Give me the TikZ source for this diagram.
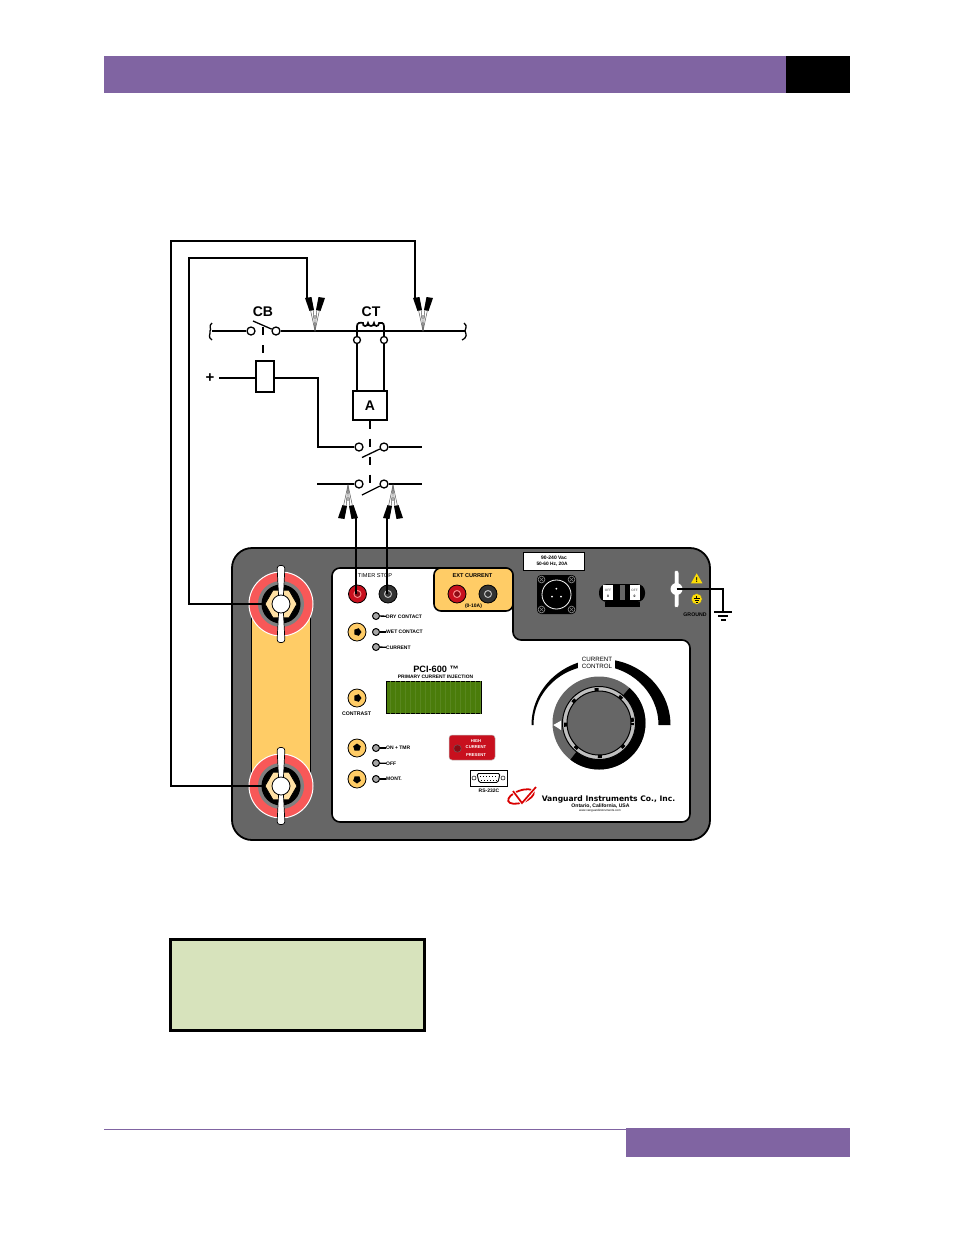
\documentclass[tikz,border=0pt]{standalone}
\usepackage{fontspec}
\setmainfont{Liberation Sans}
\newfontfamily\widefont{DejaVu Sans}
\usetikzlibrary{shapes.geometric}
\definecolor{headpurple}{HTML}{8064A2}
\definecolor{panelgray}{HTML}{666666}
\definecolor{strapyellow}{HTML}{FFCC66}
\definecolor{postred}{HTML}{F85858}
\definecolor{jackred}{HTML}{C8101E}
\definecolor{lcdgreen}{HTML}{4A7C0A}
\definecolor{notegreen}{HTML}{D7E3BC}
\tikzset{
  wire/.style={line width=1.7},
  thinwire/.style={line width=1.3},
  term/.style={circle, draw, line width=1.3, fill=white, inner sep=0, minimum size=8},
  smallterm/.style={term, minimum size=7},
  linkdash/.style={line width=1.3, dash pattern=on 8pt off 10pt},
  jackbody/.style={circle, draw, line width=0.8, inner sep=0, minimum size=18},
  jackring/.style={circle, draw, line width=1, inner sep=0, minimum size=7},
  led/.style={circle, draw, line width=1, fill=gray!70, inner sep=0, minimum size=7},
  btn/.style={circle, draw, line width=0.8, fill=strapyellow, inner sep=0, minimum size=18},
  glyph/.style={regular polygon, regular polygon sides=5, fill=black, inner sep=0, minimum size=8},
  tiny/.style={font=\fontsize{5}{6}\selectfont\bfseries, inner sep=0},
  tinyl/.style={tiny, anchor=west},
  lamptext/.style={font=\fontsize{4.2}{5}\selectfont\bfseries, inner sep=0, white},
  label/.style={font=\fontsize{14}{14}\selectfont\bfseries, inner sep=0},
  alligator/.pic={
    \fill (-10,-33) -- (-3.5,-34) -- (-1,-21) -- (-5.5,-20) -- cycle;
    \fill (10,-33) -- (3.5,-34) -- (1,-21) -- (5.5,-20) -- cycle;
    \draw[line width=0.5, black!65] (-4.5,-21) -- (0,0) -- (4.5,-21);
    \draw[line width=0.5, black!65] (-1.8,-21) -- (0,0) -- (1.8,-21);
    \draw[line width=0.5, black!65, fill=white] (0,-14) circle (1.5);
  },
  bindingpost/.pic={
    \node[circle, draw=white, line width=1, fill=postred, inner sep=0, minimum size=64] (-red) at (0,0) {};
    \node[circle, fill=gray, inner sep=0, minimum size=46] (-ring) at (0,0) {};
    \node[circle, fill=black, inner sep=0, minimum size=39] (-well) at (0,0) {};
    \node[regular polygon, regular polygon sides=6, draw, line width=0.8, fill=strapyellow!60!white, inner sep=0, minimum size=32] (-hex) at (0,0) {};
    \draw[line width=0.7, fill=white, rounded corners=3] (-4,-38.5) -- (4,-38.5) -- (2,0) -- (4,38.5) -- (-4,38.5) -- (-2,0) -- cycle;
    \node[circle, draw, line width=0.8, fill=white, inner sep=0, minimum size=18] (-cap) at (0,0) {};
  },
}
\begin{document}
\begin{tikzpicture}[x=1pt, y=-1pt]
\useasboundingbox (0,0) rectangle (954,1235);

% page furniture
\node[fill=headpurple, inner sep=0, minimum width=682, minimum height=37] (header) at (445,74.5) {};
\node[fill=black, inner sep=0, minimum width=64, minimum height=37] (headerblack) at (818,74.5) {};
\node[fill=headpurple, inner sep=0, minimum width=224, minimum height=29] (footer) at (738,1142.5) {};
\coordinate (footleft) at (104,1129);
\draw[headpurple, line width=0.8] (footleft) -- (footer.west |- footleft);
\node[draw, line width=3, fill=notegreen, inner sep=0, minimum width=254, minimum height=91] (notebox) at (297,984.5) {};

% instrument body
\node[draw, line width=1.8, fill=panelgray, rounded corners=20, inner sep=0, minimum width=478, minimum height=292] (panel) at (471,694) {};
\draw[line width=1.6, fill=white, rounded corners=8] (332,568) -- (513,568) -- (513,640) -- (690,640) -- (690,822) -- (332,822) -- cycle;

% current strap and posts
\node[draw, line width=1.2, fill=strapyellow, inner sep=0, minimum width=59, minimum height=182] (strap) at (281,695) {};
\pic (posta) at (281,604) {bindingpost};
\pic (postb) at (281,786) {bindingpost};

% timer stop
\node[font=\fontsize{5.6}{6}\selectfont, inner sep=0] (timerlabel) at (375,576) {TIMER STOP};
\node[jackbody, fill=jackred] (timerred) at (357.5,594) {};
\node[jackring, draw=postred!70!white, fill=jackred!70!black] (timerredin) at (357.5,594) {};
\node[jackbody, fill=black!80] (timerblk) at (388,594) {};
\node[jackring, draw=lightgray, fill=black!80] (timerblkin) at (388,594) {};

% ext current
\node[draw, line width=1.6, fill=strapyellow, rounded corners=7, inner sep=0, minimum width=79, minimum height=43] (extbox) at (473.5,589.5) {};
\node[font=\fontsize{5.6}{6}\selectfont\bfseries, inner sep=0] (extlabel) at (472.5,576) {EXT CURRENT};
\node[tiny] (extrange) at (473.5,606) {(0-10A)};
\node[jackbody, fill=jackred] (extred) at (457,594) {};
\node[jackring, draw=postred!70!white, fill=jackred!70!black] (extredin) at (457,594) {};
\node[jackbody, fill=black!80] (extblk) at (488,594) {};
\node[jackring, draw=lightgray, fill=black!80] (extblkin) at (488,594) {};

% mode leds
\node[led] (leddry) at (376,616) {};
\node[tinyl] (txtdry) at (386,616.5) {DRY CONTACT};
\draw[thinwire] (leddry) -- (txtdry);
\node[led] (ledwet) at (376,632) {};
\node[tinyl] (txtwet) at (386,632) {WET CONTACT};
\draw[thinwire] (ledwet) -- (txtwet);
\node[led] (ledcur) at (376,647) {};
\node[tinyl] (txtcur) at (386,647.5) {CURRENT};
\draw[thinwire] (ledcur) -- (txtcur);
\node[btn] (btnmode) at (357,632) {};
\node[glyph, shape border rotate=-90] (glyphmode) at (357.5,632) {};

% title and display
\node[font=\fontsize{9.2}{9}\selectfont\bfseries, inner sep=0] (title) at (436,669) {PCI-600 ™};
\node[font=\fontsize{4.9}{5}\selectfont\bfseries, inner sep=0] (subtitle) at (435.5,676.5) {PRIMARY CURRENT INJECTION};
\node[draw, line width=1.8, fill=lcdgreen, inner sep=0, minimum width=95, minimum height=32] (lcd) at (434,697.5) {};
\draw[lcdgreen!92!white, line width=0.15, step=5] (lcd.south west) grid (lcd.north east);
\node[btn] (btncontrast) at (357,698) {};
\node[glyph, shape border rotate=-90] (glyphcontrast) at (357.5,698) {};
\node[tiny, font=\fontsize{5.2}{6}\selectfont\bfseries] (txtcontrast) at (356.5,714) {CONTRAST};

% power keys
\node[btn] (btnon) at (357,748) {};
\node[glyph] (glyphon) at (357,747.5) {};
\node[btn] (btnmon) at (357,779) {};
\node[glyph, shape border rotate=180] (glyphmon) at (357,779.5) {};
\node[led] (ledon) at (376,748) {};
\node[tinyl] (txton) at (386,748) {ON + TMR};
\draw[thinwire] (ledon) -- (txton);
\node[led] (ledoff) at (376,763) {};
\node[tinyl] (txtoff) at (386,763.5) {OFF};
\draw[thinwire] (ledoff) -- (txtoff);
\node[led] (ledmon) at (376,779) {};
\node[tinyl] (txtmon) at (386,779) {MONT.};
\draw[thinwire] (ledmon) -- (txtmon);

% warning lamp
\node[draw=lightgray, line width=0.5, fill=jackred, rounded corners=3, inner sep=0, minimum width=46, minimum height=25] (hcbox) at (472,747.5) {};
\node[circle, draw=black!60, fill=jackred!70!black, inner sep=0, minimum size=7.5] (hclamp) at (457.5,748.5) {};
\node[lamptext] (hca) at (476,741) {HIGH};
\node[lamptext] (hcb) at (476,747.5) {CURRENT};
\node[lamptext] (hcc) at (476,755) {PRESENT};

% rs-232
\node[draw, line width=0.8, fill=white, inner sep=0, minimum width=37, minimum height=16] (rsbox) at (488.5,778) {};
\draw[line width=0.9, rounded corners=1.5] (477,773.5) -- (500,773.5) -- (498,782.5) -- (479,782.5) -- cycle;
\draw[line width=1, dash pattern=on 1pt off 2pt] (480,776) -- (498,776);
\draw[line width=1, dash pattern=on 1pt off 2pt] (481,780) -- (497,780);
\draw[line width=0.5] (474,778) circle (2);
\draw[line width=0.5] (503,778) circle (2);
\node[tiny] (txtrs) at (489,791) {RS-232C};

% logo and maker
\draw[red!85!black, line width=1.8, rotate around={20:(521,796.5)}] (521,796.5) ellipse (13.5 and 6);
\draw[white, line width=3.6] (513,791) -- (522,803) -- (536,787);
\draw[red!85!black, line width=1.7] (513,791) -- (522,803) -- (536,787);
\node[font=\fontsize{7.6}{8}\selectfont\bfseries\widefont, inner sep=0] (maker) at (608.5,799) {Vanguard Instruments Co., Inc.};
\node[font=\fontsize{5.1}{6}\selectfont\bfseries, inner sep=0] (makerb) at (600.5,806.5) {Ontario, California, USA};
\node[font=\fontsize{3}{4}\selectfont, inner sep=0] (makerc) at (600,811) {www.vanguardinstruments.com};

% current control
\begin{scope}[shift={(0,725)}, y=1pt]
  \fill (670.5,0) arc[start angle=0, end angle=180, x radius=69.5, y radius=66] -- (533.5,0) arc[start angle=180, end angle=0, x radius=62.5, y radius=59.5] -- cycle;
\end{scope}
\node[fill=white, inner sep=0, minimum width=37, minimum height=18] (ctrlgap) at (596.5,663) {};
\node[font=\fontsize{6.2}{6.5}\selectfont, inner sep=0, align=center] (ctrllabel) at (597,663) {CURRENT\\CONTROL};
\node[circle, fill=panelgray, inner sep=0, minimum size=93] (dial) at (599,723) {};
\begin{scope}[shift={(599,723)}, y=1pt]
  \fill (0,0) -- (49:46.5) arc[start angle=49, end angle=-128, radius=46.5] -- cycle;
\end{scope}
\node[circle, draw, line width=1, fill=lightgray, inner sep=0, minimum size=73] (dialring) at (599,723) {};
\node[circle, draw, line width=1, fill=panelgray, inner sep=0, minimum size=64] (knob) at (599,723) {};
\begin{scope}[shift={(599,723)}]
  \draw[line width=3, dash pattern=on 4pt off 21.9pt, dash phase=2pt] (0,0) circle (33.5);
\end{scope}
\fill[white] (553.3,725) -- (561,720.7) -- (561,730) -- cycle;

% mains inlet
\node[draw, line width=0.8, fill=white, inner sep=0, minimum width=61, minimum height=18] (mainsbox) at (554,561) {};
\node[tiny, font=\fontsize{5}{6}\selectfont\bfseries] (mainsa) at (554,557.5) {90-240 Vac};
\node[tiny, font=\fontsize{4.8}{6}\selectfont\bfseries] (mainsb) at (552,564) {50-60 Hz, 20A};
\node[fill=black, rounded corners=4, inner sep=0, minimum size=39] (inlet) at (556.5,594.5) {};
\node[circle, draw=white, line width=0.8, inner sep=0, minimum size=29] (inletface) at (556.5,594.5) {};
\draw[gray, line width=0.7] (541.5,579.5) circle (3.4) (571.5,579.5) circle (3.4) (541.5,609.5) circle (3.4) (571.5,609.5) circle (3.4);
\draw[gray, line width=0.5] (539.5,577.5) -- (543.5,581.5) (539.5,581.5) -- (543.5,577.5) (569.5,577.5) -- (573.5,581.5) (569.5,581.5) -- (573.5,577.5);
\draw[gray, line width=0.5] (539.5,607.5) -- (543.5,611.5) (539.5,611.5) -- (543.5,607.5) (569.5,607.5) -- (573.5,611.5) (569.5,611.5) -- (573.5,607.5);
\fill[white] (556.3,588.7) circle (1) (552,596.7) circle (1) (561,596.7) circle (1);

% breaker
\node[fill=black, rounded corners=8, inner sep=0, minimum width=46, minimum height=18] (breaker) at (622,593) {};
\node[fill=black, inner sep=0, minimum width=35, minimum height=5] (breakerfoot) at (622,604.5) {};
\node[fill=panelgray, inner sep=0, minimum width=5, minimum height=15] (breakergap) at (622.5,592) {};
\node[fill=white, inner sep=0, minimum width=10, minimum height=15] (breakera) at (608,592.5) {};
\node[fill=white, inner sep=0, minimum width=10, minimum height=15] (breakerb) at (634.5,592.5) {};
\node[font=\fontsize{3.2}{3}\selectfont, black!70, inner sep=0] (offa) at (608,590) {OFF};
\node[font=\fontsize{3.2}{3}\selectfont, black!70, inner sep=0] (offb) at (634.5,590) {OFF};
\node[font=\fontsize{3.4}{3}\selectfont\bfseries, inner sep=0] (zeroa) at (608,596) {0};
\node[font=\fontsize{3.4}{3}\selectfont\bfseries, inner sep=0] (zerob) at (634.5,596) {0};

% ground stud
\node[draw=black!60, line width=0.5, fill=white, rounded corners=2, inner sep=0, minimum width=4.5, minimum height=37] (gndwing) at (676.5,589) {};
\node[circle, fill=white, inner sep=0, minimum size=12] (gndbolt) at (676.5,589) {};
\node[isosceles triangle, isosceles triangle apex angle=60, shape border rotate=90, fill=yellow!80!orange, inner sep=0, minimum height=10, minimum width=11.5] (warn) at (696.7,580) {};
\node[font=\fontsize{7}{7}\selectfont\bfseries, inner sep=0] (warnmark) at (696.7,580.3) {!};
\node[circle, draw=black!60, line width=0.4, fill=yellow!80!orange, inner sep=0, minimum size=11] (gndmark) at (696.7,599) {};
\draw[line width=0.6] (696.7,595.5) -- (696.7,598.5) (693.5,598.5) -- (700,598.5) (694.5,600.3) -- (699,600.3) (695.7,602) -- (697.7,602);
\node[tiny, font=\fontsize{5.2}{6}\selectfont\bfseries] (gndlabel) at (695,615) {GROUND};
\coordinate (gndtop) at (723,612);
\draw[wire] (gndbolt.center) -| (gndtop);
\draw[wire] (714,612) -- (732,612);
\draw[wire] (718,616) -- (728,616);
\draw[wire] (721,620) -- (726,620);

% circuit above the panel
\node[label] (cblabel) at (263,312) {CB};
\node[label] (ctlabel) at (371,312) {CT};
\node[term] (cba) at (251,331) {};
\node[term] (cbb) at (276,331) {};
\coordinate (lineleft) at (212,331);
\coordinate (lineright) at (465,331);
\coordinate (cbblade) at (253,321);
\draw[thinwire] (lineleft) -- (cba);
\draw[thinwire] (cbb) -- (lineright);
\draw[thinwire] (cbblade) -- (cbb);
\draw[thinwire] (212,323) .. controls (208,326) and (212,329) .. (210,331);
\draw[thinwire] (210,331) .. controls (211,334) and (207,337) .. (212,340);
\draw[thinwire] (464,323) .. controls (468,326) and (465,329) .. (lineright);
\draw[thinwire] (lineright) .. controls (466,334) and (468,337) .. (462,340);

% trip coil
\node[draw, line width=1.3, fill=white, inner sep=0, minimum width=18, minimum height=31] (trip) at (265,376.5) {};
\coordinate (cblink) at (263,327);
\draw[linkdash] (cblink) -- (cblink |- trip.north);
\node[font=\fontsize{15}{15}\selectfont\bfseries, inner sep=0] (plus) at (210,378) {+};
\coordinate (plusend) at (219,378);
\draw[thinwire] (plusend) -- (plusend -| trip.west);
\node[term] (rela) at (359,447) {};
\node[term] (relb) at (384,447) {};
\coordinate (relend) at (422,447);
\coordinate (trippath) at (318,378);
\draw[thinwire] (trippath -| trip.east) -- (trippath) |- (rela);
\draw[thinwire] (relb) -- (relend);
\coordinate (relblade) at (362,457.5);
\draw[thinwire] (relblade) -- (relb);

% current transformer and ammeter
\node[smallterm] (cta) at (357,340) {};
\node[smallterm] (ctb) at (384,340) {};
\draw[thinwire] (357,331) -- (cta);
\draw[thinwire] (384,331) -- (ctb);
\draw[wire] (357,331) -- (357,326) .. controls (357,323) and (360,322) .. (363,323) .. controls (362,327) and (368,327) .. (368,323) .. controls (368,327) and (374,327) .. (374,323) .. controls (374,327) and (379,327) .. (379,323) .. controls (381,322) and (384,323) .. (384,326) -- (384,331);
\node[draw, line width=1.3, fill=white, inner sep=0, minimum width=34, minimum height=29, font=\fontsize{14}{14}\selectfont\bfseries] (ammeter) at (370,405.5) {A};
\draw[wire] (cta) -- (cta |- ammeter.north);
\draw[wire] (ctb) -- (ctb |- ammeter.north);

% timer contact
\node[term] (tca) at (359,484) {};
\node[term] (tcb) at (384,484) {};
\coordinate (tcleft) at (317,484);
\coordinate (tcright) at (422,484);
\draw[thinwire] (tcleft) -- (tca);
\draw[thinwire] (tcb) -- (tcright);
\coordinate (tcblade) at (362,495);
\draw[thinwire] (tcblade) -- (tcb);
\coordinate (linkend) at (370,484);
\draw[linkdash] (ammeter.south) -- (linkend);

% test leads and clips
\pic at (315,331) {alligator};
\pic at (423,331) {alligator};
\pic[rotate=180] at (348,485) {alligator};
\pic[rotate=180] at (393,485) {alligator};
\coordinate (clipa) at (307,298);
\coordinate (clipb) at (415,298);
\coordinate (clipc) at (356,517);
\coordinate (clipd) at (387,517);
\coordinate (cornera) at (189,258);
\coordinate (cornerb) at (171,241);
\draw[wire] (posta-hex.west) -| (cornera) -| (clipa);
\draw[wire] (postb-hex.west) -| (cornerb) -| (clipb);
\draw[wire] (clipc) -- (clipc |- timerred);
\draw[wire] (clipd) -- (clipd |- timerblk);
\end{tikzpicture}
\end{document}
